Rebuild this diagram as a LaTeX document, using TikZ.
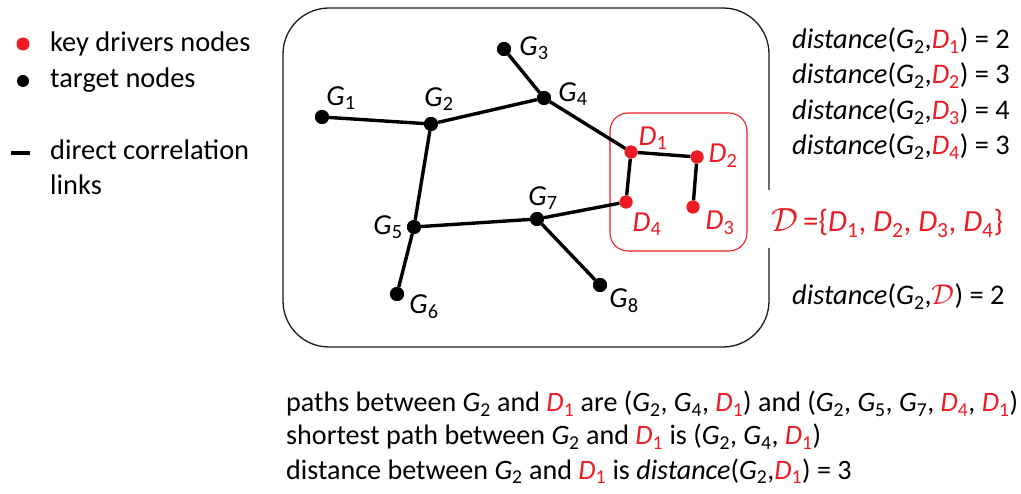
\documentclass[tikz,border=0pt]{standalone}
\usepackage{fontspec}
\setmainfont{Carlito}
\usepackage{graphicx}
\usepackage{xcolor}
\usepackage{tikz}
\usetikzlibrary{positioning}
\definecolor{kdred}{HTML}{ED1C24}
\definecolor{frame}{HTML}{1A1A1A}
\newcommand{\gn}[1]{\textit{G}\textsubscript{#1}}
\newcommand{\dn}[1]{\textcolor{kdred}{\textit{D}\textsubscript{#1}}}
\newcommand{\dset}[1][1]{\textcolor{kdred}{\scalebox{#1}{$\mathcal{D}$}}}

\begin{document}
\begin{tikzpicture}[
  x=1pt, y=-1pt,
  tnode/.style={circle, fill=black, inner sep=0pt, minimum size=14pt},
  kdnode/.style={circle, fill=kdred, inner sep=0pt, minimum size=13pt},
  link/.style={line width=3.4pt},
  lbl/.style={font=\fontsize{29}{30}\selectfont, inner sep=0pt},
  txt/.style={font=\fontsize{28.4}{30}\selectfont, anchor=base west, inner sep=0pt},
  ptxt/.style={txt, font=\fontsize{28.1}{30}\selectfont}
]
\useasboundingbox (0,0) rectangle (1021,494);

% legend
\node[kdnode, minimum size=13pt] (legkd) at (23,44) {};
\node[tnode, minimum size=12pt] (legt) at (23,81) {};
\coordinate (legla) at (11,153);
\coordinate (leglb) at (30,153);
\draw[link] (legla) -- (leglb);
\node[txt] (legkdtxt) at (50,52) {key drivers nodes};
\node[txt] (legttxt) at (50,88) {target nodes};
\node[txt] (legltxt) at (50,160) {direct correlation};
\node[txt] (legltxtb) at (50,195) {links};

% frames
\draw[frame, line width=1.3pt, rounded corners=46pt]
  (769,248) -- (769,347) -- (283,347) -- (283,8) -- (769,8) -- (769,190);
\draw[kdred, line width=1.1pt, rounded corners=18pt] (610,113) rectangle (747,251);

% graph nodes
\node[tnode] (g1) at (322,117) {};
\node[tnode] (g2) at (431,124) {};
\node[tnode] (g3) at (504,49) {};
\node[tnode] (g4) at (544,98) {};
\node[tnode] (g5) at (414,227) {};
\node[tnode] (g6) at (397,294) {};
\node[tnode] (g7) at (537,219) {};
\node[tnode] (g8) at (600,285) {};
\node[kdnode] (d1) at (631,152) {};
\node[kdnode] (d2) at (697,157) {};
\node[kdnode] (d3) at (693,207) {};
\node[kdnode] (d4) at (626,202) {};

% correlation links
\draw[link] (g1) -- (g2);
\draw[link] (g2) -- (g4);
\draw[link] (g3) -- (g4);
\draw[link] (g4) -- (d1);
\draw[link] (g2) -- (g5);
\draw[link] (g5) -- (g6);
\draw[link] (g5) -- (g7);
\draw[link] (g7) -- (g8);
\draw[link] (g7) -- (d4);
\draw[link] (d1) -- (d2);
\draw[link] (d1) -- (d4);
\draw[link] (d2) -- (d3);
\foreach \n in {g1,g2,g3,g4,g5,g6,g7,g8} \node[tnode] at (\n) {};
\foreach \n in {d1,d2,d3,d4} \node[kdnode] at (\n) {};

% node labels
\node[lbl] (g1l) at (341,98) {\gn{1}};
\node[lbl] (g2l) at (439,99) {\gn{2}};
\node[lbl] (g3l) at (534,48) {\gn{3}};
\node[lbl] (g4l) at (573,94) {\gn{4}};
\node[lbl] (g5l) at (388,227) {\gn{5}};
\node[lbl] (g6l) at (424,307) {\gn{6}};
\node[lbl] (g7l) at (543,198) {\gn{7}};
\node[lbl] (g8l) at (624,301) {\gn{8}};
\node[lbl] (d1l) at (653,138) {\dn{1}};
\node[lbl] (d2l) at (723,156) {\dn{2}};
\node[lbl] (d3l) at (720,223) {\dn{3}};
\node[lbl] (d4l) at (647,224) {\dn{4}};

% distances
\node[txt] (dist1) at (792,49) {\textit{distance}(\gn{2},\dn{1}) = 2};
\node[txt] (dist2) at (792,84) {\textit{distance}(\gn{2},\dn{2}) = 3};
\node[txt] (dist3) at (792,120) {\textit{distance}(\gn{2},\dn{3}) = 4};
\node[txt] (dist4) at (792,155) {\textit{distance}(\gn{2},\dn{4}) = 3};
\node[txt, font=\fontsize{30.8}{32}\selectfont] (dsetdef) at (771,232)
  {\dset[1.35]\,\textcolor{kdred}{=\{\dn{1}, \dn{2}, \dn{3}, \dn{4}\}}};
\node[txt] (distset) at (792,305) {\textit{distance}(\gn{2},\dset[1.15]) = 2};

% paths
\node[ptxt] (path1) at (286,412) {paths between \gn{2} and \dn{1} are (\gn{2}, \gn{4}, \dn{1}) and (\gn{2}, \gn{5}, \gn{7}, \dn{4}, \dn{1})};
\node[ptxt] (path2) at (286,445) {shortest path between \gn{2} and \dn{1} is (\gn{2}, \gn{4}, \dn{1})};
\node[ptxt] (path3) at (286,479) {distance between \gn{2} and \dn{1} is \textit{distance}(\gn{2},\dn{1}) = 3};
\end{tikzpicture}
\end{document}
